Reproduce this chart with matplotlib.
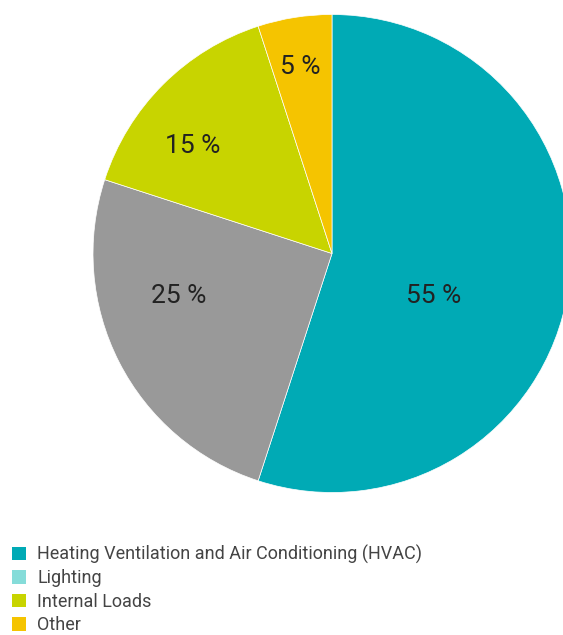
import matplotlib
matplotlib.use("Agg")
import matplotlib.pyplot as plt
from matplotlib.patches import Patch

categories = ["Heating Ventilation and Air Conditioning (HVAC)", "Lighting", "Internal Loads", "Other"]
values = [55, 25, 15, 5]
slice_colors = ["#00aab5", "#999999", "#c8d400", "#f5c400"]
legend_colors = ["#00aab5", "#85dcd9", "#c8d400", "#f5c400"]
pct_labels = ["55 %", "25 %", "15 %", "5 %"]
# label positions in units of radius (layout only)
label_pos = [(0.425, -0.176), (-0.643, -0.178), (-0.584, 0.450), (-0.134, 0.782)]

plt.rcParams['font.family'] = ['Roboto', 'DejaVu Sans']

W, H = 563, 635
fig = plt.figure(figsize=(W / 100, H / 100), dpi=100)
ax = fig.add_axes([0, 0, 1, 1])
R = 239.0
cx, cy = 332.0, 253.5

wedges, _ = ax.pie(values, colors=slice_colors, startangle=90, counterclock=False,
                   radius=1.0, wedgeprops=dict(linewidth=0.5, edgecolor="white"))
for (lx, ly), t in zip(label_pos, pct_labels):
    ax.text(lx, ly, t, ha="center", va="center", fontsize=19, color="#222222")

ax.set_xlim(-cx / R, (W - cx) / R)
ax.set_ylim(-(H - cy) / R, cy / R)
ax.set_aspect("auto")
ax.axis("off")

handles = [Patch(facecolor=c, edgecolor="none") for c in legend_colors]
fig.legend(handles, categories, loc="upper left", bbox_to_anchor=(0.021, 0.142),
           frameon=False, fontsize=13, handlelength=0.8, handleheight=0.8,
           handletextpad=0.6, labelspacing=0.3, labelcolor="#444444",
           borderaxespad=0, borderpad=0)

fig.savefig("out.png", dpi=100)
